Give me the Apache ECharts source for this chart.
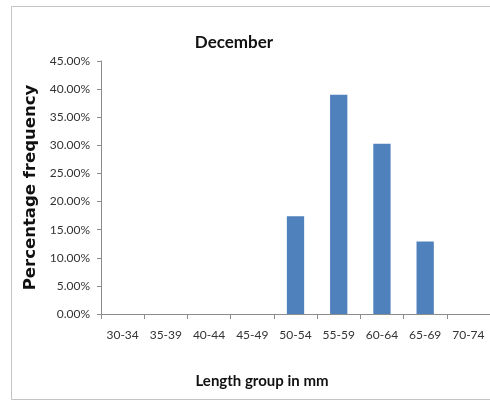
<!DOCTYPE html>
<html>
<head>
<meta charset="utf-8">
<script src="https://cdn.jsdelivr.net/npm/echarts@6/dist/echarts.min.js"></script>
<style>
  html, body { margin: 0; padding: 0; background: #fff; overflow: hidden; }
  #chart { width: 490px; height: 402px; }
</style>
</head>
<body>
<div id="chart"></div>
<script>
// Length groups (mm) and their share of the December sample, in percent
const lengthGroups = ['30-34', '35-39', '40-44', '45-49', '50-54', '55-59', '60-64', '65-69', '70-74'];
const percentFrequency = [0, 0, 0, 0, 17.4, 39.0, 30.3, 12.9, 0];
const yTicks = { min: 0, max: 45, interval: 5 };

const chart = echarts.init(document.getElementById('chart'), null, { renderer: 'canvas' });
const font = 'Lato, "Open Sans", sans-serif';
const frameStyle = { stroke: '#c4c4c4', lineWidth: 1 };

chart.setOption({
  animation: false,
  backgroundColor: '#fff',
  // chart-area frame: top, left and bottom edges
  graphic: [
    { type: 'line', shape: { x1: 11.5, y1: 6.5, x2: 490, y2: 6.5 }, style: frameStyle, z: -1 },
    { type: 'line', shape: { x1: 11.5, y1: 6.5, x2: 11.5, y2: 399.5 }, style: frameStyle, z: -1 },
    { type: 'line', shape: { x1: 11.5, y1: 399.5, x2: 490, y2: 399.5 }, style: frameStyle, z: -1 }
  ],
  title: [{
    text: 'December',
    left: 229,
    top: 29,
    textAlign: 'center',
    textStyle: { fontFamily: font, fontSize: 17, fontWeight: 'bold', color: '#111' }
  }, {
    text: 'Length group in mm',
    left: 257,
    top: 369,
    textAlign: 'center',
    textStyle: { fontFamily: font, fontSize: 15, fontWeight: 'bold', color: '#111' }
  }],
  grid: { left: 101, right: 0, top: 61, bottom: 88, containLabel: false },
  xAxis: {
    type: 'category',
    data: lengthGroups,
    boundaryGap: true,
    axisLine: { lineStyle: { color: '#8c8c8c', width: 1 } },
    axisTick: { show: true, alignWithLabel: false, length: 5, lineStyle: { color: '#8c8c8c' } },
    axisLabel: { fontFamily: font, fontSize: 12, color: '#333', margin: 15, interval: 0 }
  },
  yAxis: {
    type: 'value',
    min: yTicks.min,
    max: yTicks.max,
    interval: yTicks.interval,
    name: 'Percentage frequency',
    nameLocation: 'middle',
    nameGap: 58,
    nameTextStyle: { fontFamily: '"DejaVu Sans", sans-serif', fontSize: 16.5, fontWeight: 'bold', color: '#111' },
    splitLine: { show: false },
    axisLine: { show: true, lineStyle: { color: '#8c8c8c', width: 1 } },
    axisTick: { show: true, length: 4, lineStyle: { color: '#8c8c8c' } },
    axisLabel: {
      fontFamily: font, fontSize: 12, color: '#333', margin: 11,
      formatter: v => v.toFixed(2) + '%'
    }
  },
  series: [{
    type: 'bar',
    data: percentFrequency,
    barWidth: '40%',
    itemStyle: { color: '#4f81bd' }
  }]
});
</script>
</body>
</html>
